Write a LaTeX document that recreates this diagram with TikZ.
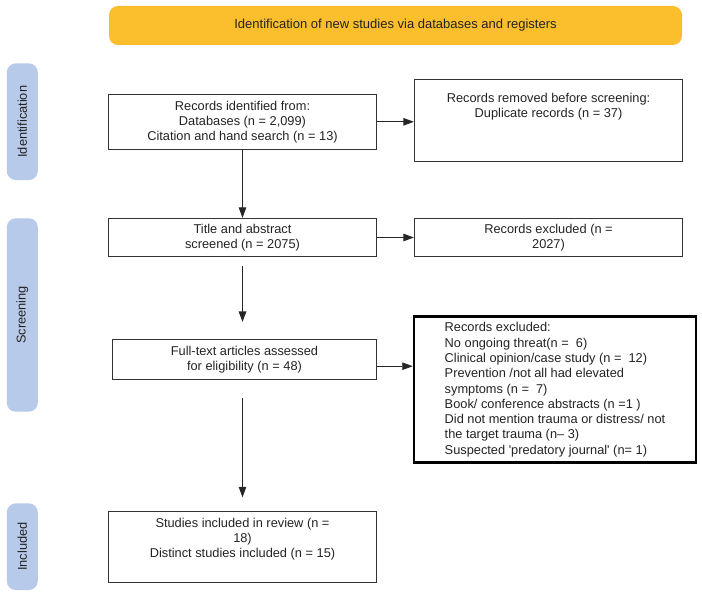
\documentclass[tikz,border=0pt]{standalone}
\usepackage{fontspec}
\setmainfont{Liberation Sans}
\usepackage{tikz}
\usetikzlibrary{calc, positioning, arrows.meta}
\definecolor{bannerorange}{RGB}{251,191,45}
\definecolor{pillblue}{RGB}{184,202,234}
\definecolor{inkgray}{RGB}{35,35,35}
\tikzstyle{txt}=[align=center, text=inkgray, font=\fontsize{12.8pt}{15pt}\selectfont]
\tikzstyle{box}=[txt, draw=black!80, line width=0.8pt, shape=rectangle, inner sep=4pt, minimum width=268.4pt]
\tikzstyle{pill}=[txt, fill=pillblue, rounded corners=9pt, rotate=90, minimum height=31pt, inner sep=0pt]
\tikzstyle{banner}=[txt, fill=bannerorange, rounded corners=9pt, minimum width=573pt, minimum height=39pt, font=\fontsize{13pt}{15pt}\selectfont]
\tikzstyle{arr}=[->, draw=black!85, line width=0.8pt]
\tikzset{>={Triangle[length=10.5pt,width=7.5pt]}}

\begin{document}
\begin{tikzpicture}[x=1pt, y=-1pt]
\useasboundingbox (0,0) rectangle (702,594);
\node[banner] (ttl) at (395.5,25.5) {Identification of new studies via databases and registers};
%
\node[pill, minimum width=116.7pt] (idn) at (22.3,121.7) {Identification};
\node[pill, minimum width=193.4pt] (scn) at (22.3,315) {Screening};
\node[pill, minimum width=86.7pt] (icn) at (22.3,546.7) {Included};
%
\node[box, minimum height=55pt] (rec) at (242.5,121.8) {Records identified from:\\ Databases (n = 2,099)\\ Citation and hand search (n = 13)};
\node[box, minimum height=82pt, label={[txt, anchor=north, yshift=-11pt]north:{Records removed before screening:\\ Duplicate records (n = 37)}}] (rem) at (548.5,120) {};
\node[box, minimum height=38.4pt] (scr) at (242.5,237.5) {Title and abstract\\ screened (n = 2075)};
\node[box, minimum height=38.4pt] (exc) at (548.5,237.5) {Records excluded (n =\\ 2027)};
\node[box, minimum width=264.4pt, minimum height=39.7pt] (ful) at (244.5,359.2) {Full-text articles assessed\\ for eligibility (n = 48)};
\node[box, draw=black, line width=2.5pt, align=left, minimum width=282pt, minimum height=146pt, font=\fontsize{12.8pt}{15.3pt}\selectfont] (exf) at (555,389.7) {Records excluded:\\ No ongoing threat(n = \ 6)\\ Clinical opinion/case study (n = \ 12)\\ Prevention /not all had elevated\\ symptoms (n = \ 7)\\ Book/ conference abstracts (n =1 )\\ Did not mention trauma or distress/ not\\ the target trauma (n– 3)\\ Suspected \textquotesingle predatory journal\textquotesingle{} (n= 1)};
\node[box, minimum height=71pt, label={[txt, anchor=north, yshift=-3pt]north:{Studies included in review (n =\\ 18)\\ Distinct studies included (n = 15)}}] (inc) at (242.5,547.2) {};
%
\draw[arr] (rec.east) -- (rec.east -| rem.west);
\draw[arr] (rec) -- (scr);
\draw[arr] (scr) -- (exc);
\draw[arr, line width=1.3pt, shorten <=9pt, shorten >=17pt] (scr.south) -- (scr.south |- ful.north);
\draw[arr] ([yshift=-7pt]ful.east) -- ([yshift=-7pt]ful.east -| exf.west);
\draw[arr, shorten <=19pt, shorten >=14pt] (inc.north |- ful.south) -- (inc.north);
\end{tikzpicture}
\end{document}
